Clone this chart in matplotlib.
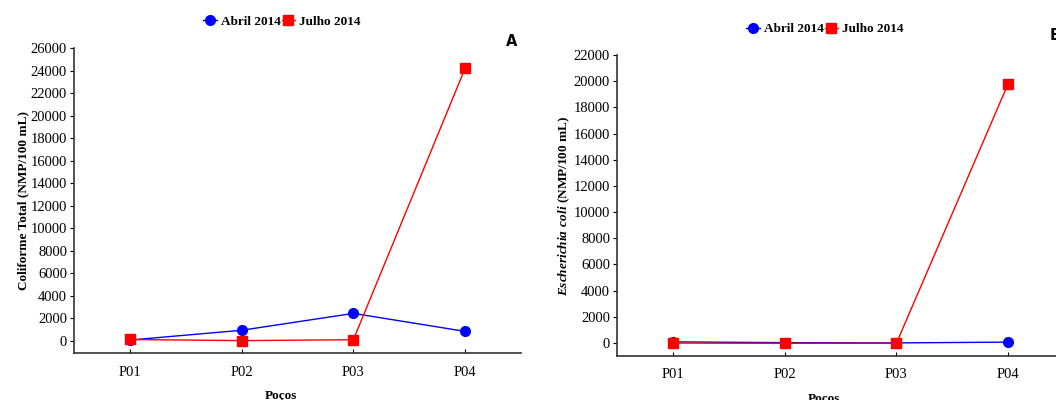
import matplotlib.pyplot as plt
from matplotlib.ticker import MultipleLocator

plt.rcParams['font.family'] = ['Liberation Serif', 'DejaVu Serif']
plt.rcParams['mathtext.fontset'] = 'custom'
plt.rcParams['mathtext.rm'] = 'Liberation Serif'
plt.rcParams['mathtext.bf'] = 'Liberation Serif:bold'
plt.rcParams['mathtext.bfit'] = 'Liberation Serif:italic:bold'

pocos = ["P01", "P02", "P03", "P04"]
series_labels = ["Abril 2014", "Julho 2014"]

# Coliforme total (NMP/100 mL)
coli_abril = [50, 920, 2420, 820]
coli_julho = [100, 0, 80, 24200]

# Escherichia coli (NMP/100 mL)
ecoli_abril = [80, 20, 0, 60]
ecoli_julho = [-10, -30, -30, 19800]

W, H = 1056, 400
fig = plt.figure(figsize=(W / 100, H / 100), dpi=100)


def panel(rect, abril, julho, ylim, ystep, ylabel, letter, letter_xy, legend_y):
    l, t, r, b = rect
    ax = fig.add_axes([l / W, 1 - b / H, (r - l) / W, (b - t) / H])
    x = range(len(pocos))
    ax.plot(x, abril, color='blue', marker='o', markersize=7, lw=1,
            label=series_labels[0])
    ax.plot(x, julho, color='red', marker='s', markersize=6.5, lw=1,
            label=series_labels[1])
    ax.set_xlim(-0.5, 3.5)
    ax.set_ylim(*ylim)
    ax.yaxis.set_major_locator(MultipleLocator(ystep))
    ax.set_xticks(list(x))
    ax.set_xticklabels(pocos)
    for s in ['top', 'right']:
        ax.spines[s].set_visible(False)
    for s in ['left', 'bottom']:
        ax.spines[s].set_linewidth(1.2)
        ax.spines[s].set_color('#333333')
    ax.tick_params(axis='y', direction='out', length=3, labelsize=10.5, pad=2)
    ax.tick_params(axis='x', direction='in', length=3, labelsize=10.5, pad=9)
    ax.set_xlabel("Poços", fontsize=9.5, fontweight='bold', labelpad=8)
    ax.xaxis.label.set_x(0.462)
    ax.set_ylabel(ylabel, fontsize=9.5, fontweight='bold', labelpad=1)
    fig.text(letter_xy[0] / W, 1 - letter_xy[1] / H, letter, fontsize=10.5,
             fontweight='bold', family='DejaVu Sans', ha='center', va='center')
    ax.legend(loc='center', bbox_to_anchor=(0.465, 1 + (t - legend_y) / (b - t)),
              ncol=2, frameon=False, prop={'weight': 'bold', 'size': 9.5},
              handlelength=1.0, handletextpad=0.3, columnspacing=0.1,
              borderaxespad=0)
    return ax


panel((74, 48, 521, 353), coli_abril, coli_julho, (-1100, 26000), 2000,
      "Coliforme Total (NMP/100 mL)", "A", (512, 42), 22)
panel((617, 55, 1064, 356), ecoli_abril, ecoli_julho, (-1000, 22000), 2000,
      r"$\mathbfit{Escherichia\ coli}$ (NMP/100 mL)", "B", (1055, 36), 29)

fig.savefig("out.png", dpi=100)
